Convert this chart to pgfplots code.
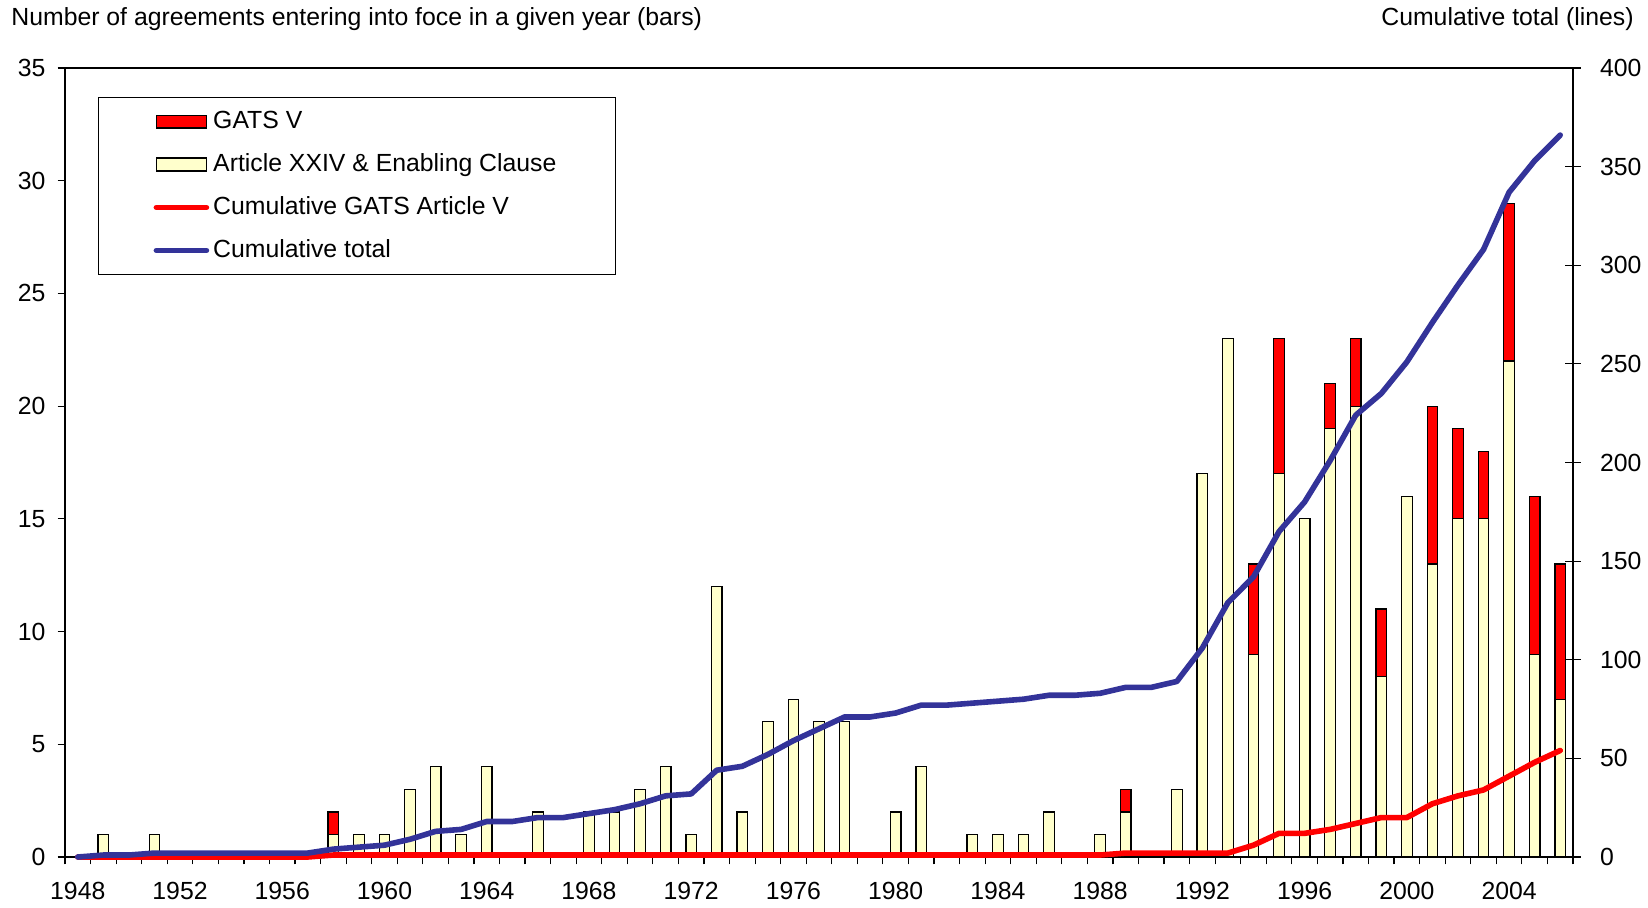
\documentclass[border=0pt]{standalone}
\usepackage{fontspec}
\setmainfont{Liberation Sans}
\usepackage{pgfplots}
\usepackage{pgfplotstable}
\pgfplotsset{compat=1.18}
\definecolor{barY}{HTML}{FFFFCC}
\definecolor{barR}{HTML}{FF0000}
\definecolor{lineB}{HTML}{333399}
\newcommand\chartfont{\fontsize{12.4}{14.8}\selectfont}

\pgfplotstableread{
year art gats cumg cumt
1948 0 0 0 0
1949 1 0 0 1
1950 0 0 0 1
1951 1 0 0 2
1952 0 0 0 2
1953 0 0 0 2
1954 0 0 0 2
1955 0 0 0 2
1956 0 0 0 2
1957 0 0 0 2
1958 1 1 1 4
1959 1 0 1 5
1960 1 0 1 6
1961 3 0 1 9
1962 4 0 1 13
1963 1 0 1 14
1964 4 0 1 18
1965 0 0 1 18
1966 2 0 1 20
1967 0 0 1 20
1968 2 0 1 22
1969 2 0 1 24
1970 3 0 1 27
1971 4 0 1 31
1972 1 0 1 32
1973 12 0 1 44
1974 2 0 1 46
1975 6 0 1 52
1976 7 0 1 59
1977 6 0 1 65
1978 6 0 1 71
1979 0 0 1 71
1980 2 0 1 73
1981 4 0 1 77
1982 0 0 1 77
1983 1 0 1 78
1984 1 0 1 79
1985 1 0 1 80
1986 2 0 1 82
1987 0 0 1 82
1988 1 0 1 83
1989 2 1 2 86
1990 0 0 2 86
1991 3 0 2 89
1992 17 0 2 106
1993 23 0 2 129
1994 9 4 6 142
1995 17 6 12 165
1996 15 0 12 180
1997 19 2 14 201
1998 20 3 17 224
1999 8 3 20 235
2000 16 0 20 251
2001 13 7 27 271
2002 15 4 31 290
2003 15 3 34 308
2004 22 7 41 337
2005 9 7 48 353
2006 7 6 54 366
}\datatable

\begin{document}
\begin{tikzpicture}[font=\chartfont]
\path[use as bounding box] (-32.5pt,-25pt) rectangle (791.5pt,428.5pt);
\begin{axis}[
  at={(0pt,0pt)}, anchor=south west,
  scale only axis, width=754pt, height=394.5pt,
  xmin=1947.5, xmax=2006.5, ymin=0, ymax=35,
  ybar stacked, bar width=5.3pt,
  axis line style={line width=0.6pt},
  tick style={black, line width=0.6pt},
  tick align=outside, major tick length=3.7pt,
  xtick=\empty, ytick pos=left,
  ytick={0,5,...,35},
  /pgf/number format/assume math mode=true,
  yticklabel style={xshift=-2.5pt},
  legend cell align=left,
  legend style={at={(0.0219,0.9632)}, anchor=north west, draw=black, line width=0.6pt,
    inner xsep=27.5pt, inner ysep=5pt, row sep=7pt,
    nodes={inner sep=2pt}},
]
\addplot[fill=barY, draw=black, line width=0.6pt, forget plot] table[x=year,y=art]{\datatable};
\addplot[fill=barR, draw=black, line width=0.6pt, forget plot] table[x=year,y=gats]{\datatable};
\addlegendimage{legend image code/.code={\draw[fill=barR,draw=black,line width=0.8pt] (0pt,-3.2pt) rectangle (25pt,3.2pt);}}
\addlegendentry{GATS V}
\addlegendimage{legend image code/.code={\draw[fill=barY,draw=black,line width=0.8pt] (0pt,-3.2pt) rectangle (25pt,3.2pt);}}
\addlegendentry{Article XXIV \& Enabling Clause}
\addlegendimage{legend image code/.code={\draw[barR,line width=2.8pt,line cap=round] (0pt,0pt) -- (25pt,0pt);}}
\addlegendentry{Cumulative GATS Article V}
\addlegendimage{legend image code/.code={\draw[lineB,line width=2.8pt,line cap=round] (0pt,0pt) -- (25pt,0pt);}}
\addlegendentry{Cumulative total}
\end{axis}
% category boundary tick marks: a thin strip just below the axis, with grid lines at the boundaries
\begin{axis}[
  at={(0pt,-3.7pt)}, anchor=south west,
  scale only axis, width=754pt, height=3.7pt,
  xmin=1947.5, xmax=2006.5, ymin=0, ymax=1,
  axis line style={draw=none},
  xtick={1947.5,1948.5,...,2006.5},
  xticklabels={}, ytick=\empty,
  major tick length=0pt,
  xmajorgrids,
  grid style={black, line width=0.6pt, solid},
]
\end{axis}
% year labels
\begin{axis}[
  at={(0pt,0pt)}, anchor=south west,
  scale only axis, width=754pt, height=394.5pt,
  xmin=1947.5, xmax=2006.5, ymin=0, ymax=35,
  hide y axis, axis x line*=bottom,
  x axis line style={draw=none},
  major tick length=0pt,
  xtick={1948,1952,...,2004},
  xticklabel style={anchor=base, yshift=-21pt},
  /pgf/number format/assume math mode=true,
  /pgf/number format/1000 sep={},
]
\end{axis}
% right axis with cumulative lines
\begin{axis}[
  at={(0pt,0pt)}, anchor=south west,
  scale only axis, width=754pt, height=394.5pt,
  xmin=1947.5, xmax=2006.5, ymin=0, ymax=400,
  axis x line=none, axis y line*=right,
  axis line style={line width=0.6pt, -},
  tick style={black, line width=0.6pt},
  tick align=center, major tick length=8pt,
  ytick={0,50,...,400},
  /pgf/number format/assume math mode=true,
  yticklabel style={xshift=6pt},
  clip=false,
]
\addplot[barR, line width=2.8pt, line join=round, line cap=round] table[x=year,y=cumg]{\datatable};
\addplot[lineB, line width=2.8pt, line join=round, line cap=round] table[x=year,y=cumt]{\datatable};
\end{axis}
\node[anchor=west, inner sep=0pt] at (-27pt,419pt) {Number of agreements entering into foce in a given year (bars)};
\node[anchor=east, inner sep=0pt] at (784.5pt,419pt) {Cumulative total (lines)};
\end{tikzpicture}
\end{document}
